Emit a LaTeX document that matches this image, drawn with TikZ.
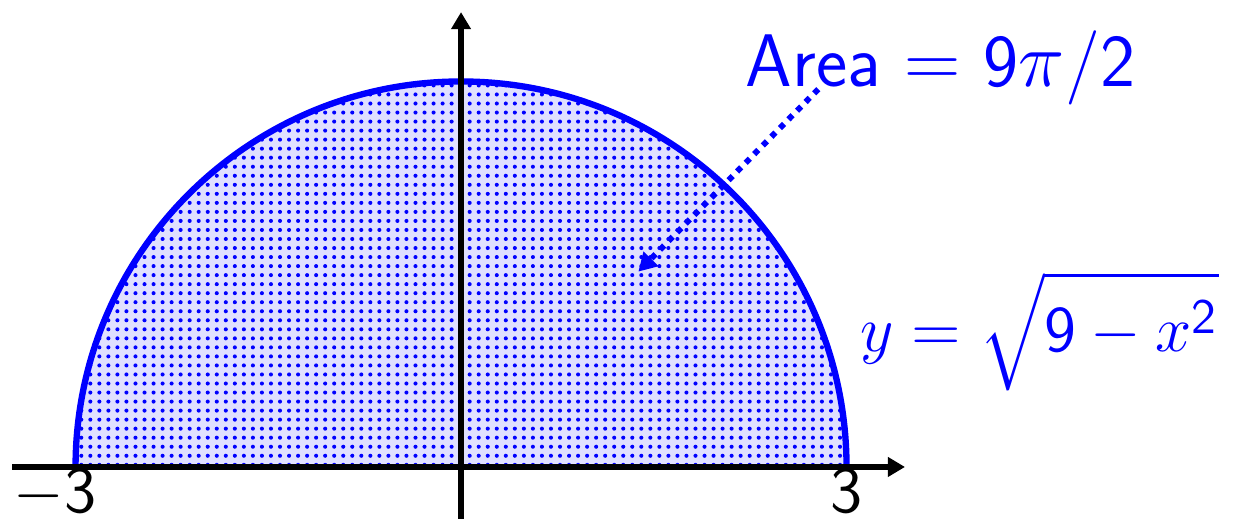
\documentclass[tikz,border=0pt]{standalone}
\usepackage{amsmath}
\usepackage{tikz}
\usetikzlibrary{arrows.meta,patterns.meta}

\begin{document}
\begin{tikzpicture}[
  axis/.style={line width=1.3pt,-{Triangle[length=3.8pt,width=4.2pt]}},
  curve/.style={draw=blue,line width=1.4pt},
  lbl/.style={font=\fontsize{14.5}{17}\selectfont\sffamily,inner sep=0pt},
  biglbl/.style={lbl,blue,font=\fontsize{16.5}{19}\selectfont\sffamily},
  pointer/.style={blue,line width=1.3pt,dash pattern=on 1.3pt off 1.4pt,
    -{Triangle[length=4pt,width=4.4pt]}}]
\useasboundingbox (-3.588,-0.405) rectangle (6.023,3.634);
% region under the curve
\fill[blue!12] (-3,0) arc (180:0:3) -- cycle;
\fill[pattern={Dots[radius=0.45pt,distance=2pt]},pattern color=blue] (-3,0) arc (180:0:3) -- cycle;
\draw[curve] (-3,0) arc (180:0:3);
% axes
\coordinate (xl) at (-3.494,0); \coordinate (xr) at (3.455,0);
\coordinate (yb) at (0,-0.41); \coordinate (yt) at (0,3.54);
\draw[axis] (xl)--(xr);
\draw[axis] (yb)--(yt);
% labels
\node[lbl,anchor=base east] (mthree) at (-2.83,-0.355) {$-$3};
\node[lbl,anchor=base] (three) at (3,-0.355) {3};
\node[biglbl,font=\fontsize{15.4}{18}\selectfont\sffamily,anchor=base west] (curvelbl) at (3.1,0.895)
  {$y=\sqrt{\vphantom{\big|}\mathsf{9}-x^{\mathsf{2}}}$};
\node[biglbl,anchor=base west] (area) at (2.21,2.957) {Area $=$ 9$\pi$/2};
\coordinate (tail) at (2.78,2.94);
\coordinate (tip) at (1.38,1.52);
\draw[pointer] (tail)--(tip);
\end{tikzpicture}
\end{document}
